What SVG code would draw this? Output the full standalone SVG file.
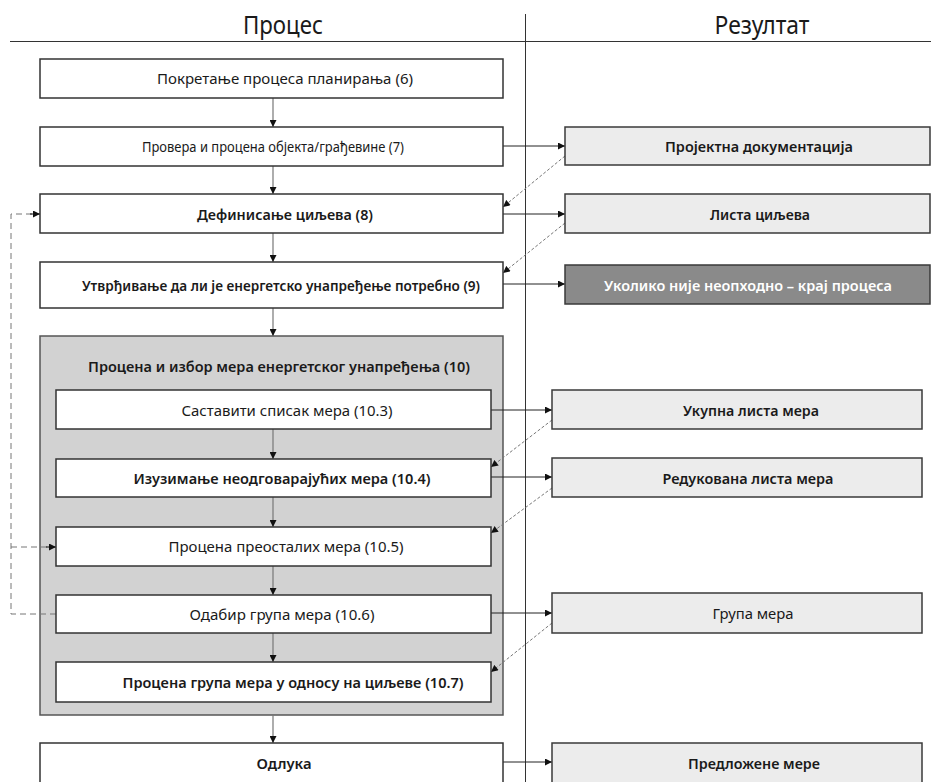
<svg xmlns="http://www.w3.org/2000/svg" width="931" height="782" viewBox="0 0 931 782">
<style>
text{font-family:"Noto Sans","Open Sans","DejaVu Sans",sans-serif;fill:#1a1a1a;text-anchor:middle;dominant-baseline:central;}
.h{font-size:25px;}
.t{font-size:15px;}
.b{font-weight:600;}
.box{fill:#fff;stroke:#333;stroke-width:1.5;}
.res{fill:#ececec;stroke:#3a3a3a;stroke-width:1.5;}
.dark{fill:#8a8a8a;stroke:#3a3a3a;stroke-width:1.5;}
.cont{fill:#d2d2d2;stroke:#555;stroke-width:1.5;}
.wt{fill:#fff;}
.down{stroke:#777;stroke-width:1.2;fill:none;marker-end:url(#ah);}
.out{stroke:#222;stroke-width:1;fill:none;marker-end:url(#ah);}
.diag{stroke:#777;stroke-width:1;stroke-dasharray:3,2;fill:none;marker-end:url(#ah);}
.loop{stroke:#777;stroke-width:1;stroke-dasharray:6,4;fill:none;}
.rule{stroke:#333;stroke-width:1;fill:none;}
</style>
<defs>
<marker id="ah" viewBox="0 0 10 10" refX="10" refY="5" markerWidth="8" markerHeight="7" markerUnits="userSpaceOnUse" orient="auto">
<path d="M0,0 L10,5 L0,10 z" fill="#111"/>
</marker>
</defs>
<g id="layout">
<line class="rule" x1="10" y1="41.5" x2="931" y2="41.5"/>
<line class="rule" x1="525.5" y1="14" x2="525.5" y2="782"/>
<text class="h" x="283" y="24" textLength="80" lengthAdjust="spacingAndGlyphs">Процес</text>
<text class="h" x="762" y="24" textLength="95" lengthAdjust="spacingAndGlyphs">Резултат</text>
</g>
<g id="container10">
<rect class="cont" x="40" y="336" width="463" height="379"/>
<text class="t b" x="279" y="366" textLength="382" lengthAdjust="spacingAndGlyphs">Процена и избор мера енергетског унапређења (10)</text>
</g>
<g id="connectors">
<line class="down" x1="273" y1="98" x2="273" y2="127"/>
<line class="down" x1="273" y1="166" x2="273" y2="194"/>
<line class="down" x1="273" y1="233" x2="273" y2="262"/>
<line class="down" x1="273" y1="308" x2="273" y2="336"/>
<line class="down" x1="273" y1="429" x2="273" y2="459"/>
<line class="down" x1="273" y1="497" x2="273" y2="527"/>
<line class="down" x1="273" y1="566" x2="273" y2="595"/>
<line class="down" x1="273" y1="633" x2="273" y2="662"/>
<line class="down" x1="273" y1="715" x2="273" y2="743"/>
<line class="out" x1="503" y1="146" x2="565" y2="146"/>
<line class="out" x1="503" y1="214" x2="565" y2="214"/>
<line class="out" x1="503" y1="284" x2="565" y2="284"/>
<line class="out" x1="491" y1="410" x2="552" y2="410"/>
<line class="out" x1="491" y1="477" x2="552" y2="477"/>
<line class="out" x1="491" y1="613" x2="552" y2="613"/>
<line class="out" x1="492" y1="762" x2="552" y2="762"/>
<line class="diag" x1="565" y1="156" x2="503" y2="207"/>
<line class="diag" x1="565" y1="223" x2="503" y2="273"/>
<line class="diag" x1="552" y1="420" x2="491" y2="467"/>
<line class="diag" x1="552" y1="488" x2="491" y2="533"/>
<line class="diag" x1="552" y1="623" x2="491" y2="672"/>
<path class="loop" d="M56,614 H11 V214 H32"/>
<path class="loop" d="M11,547 H48"/>
<line x1="30" y1="214" x2="40" y2="214" stroke="#111" stroke-width="1" marker-end="url(#ah)"/>
<line x1="46" y1="547" x2="56" y2="547" stroke="#111" stroke-width="1" marker-end="url(#ah)"/>
</g>
<g id="n6">
<rect class="box" x="40" y="59" width="463" height="39"/>
<text class="t" x="285" y="78" textLength="256" lengthAdjust="spacingAndGlyphs">Покретање процеса планирања (6)</text>
</g>
<g id="n7">
<rect class="box" x="40" y="127" width="463" height="39"/>
<text class="t" x="273" y="146" textLength="262" lengthAdjust="spacingAndGlyphs">Провера и процена објекта/грађевине (7)</text>
</g>
<g id="n8">
<rect class="box" x="40" y="194" width="463" height="39"/>
<text class="t b" x="285" y="214" textLength="176" lengthAdjust="spacingAndGlyphs">Дефинисање циљева (8)</text>
</g>
<g id="n9">
<rect class="box" x="40" y="262" width="463" height="46"/>
<text class="t b" x="281" y="285" textLength="398" lengthAdjust="spacingAndGlyphs">Утврђивање да ли је енергетско унапређење потребно (9)</text>
</g>
<g id="n10_3">
<rect class="box" x="56" y="390" width="435" height="39"/>
<text class="t" x="287" y="410" textLength="211" lengthAdjust="spacingAndGlyphs">Саставити списак мера (10.3)</text>
</g>
<g id="n10_4">
<rect class="box" x="56" y="459" width="435" height="38"/>
<text class="t b" x="282" y="478" textLength="297" lengthAdjust="spacingAndGlyphs">Изузимање неодговарајућих мера (10.4)</text>
</g>
<g id="n10_5">
<rect class="box" x="56" y="527" width="435" height="39"/>
<text class="t" x="286" y="546" textLength="235" lengthAdjust="spacingAndGlyphs">Процена преосталих мера (10.5)</text>
</g>
<g id="n10_6">
<rect class="box" x="56" y="595" width="435" height="38"/>
<text class="t" x="282" y="614" textLength="185" lengthAdjust="spacingAndGlyphs">Одабир група мера (10.6)</text>
</g>
<g id="n10_7">
<rect class="box" x="56" y="662" width="435" height="40"/>
<text class="t b" x="293" y="682" textLength="341" lengthAdjust="spacingAndGlyphs">Процена група мера у односу на циљеве (10.7)</text>
</g>
<g id="odluka">
<rect class="box" x="40" y="743" width="463" height="50"/>
<text class="t b" x="284" y="763" textLength="55" lengthAdjust="spacingAndGlyphs">Одлука</text>
</g>
<g id="r_dok">
<rect class="res" x="565" y="127" width="365" height="38"/>
<text class="t b" x="759" y="146" textLength="188" lengthAdjust="spacingAndGlyphs">Пројектна документација</text>
</g>
<g id="r_ciljevi">
<rect class="res" x="565" y="194" width="365" height="39"/>
<text class="t b" x="760" y="214" textLength="100" lengthAdjust="spacingAndGlyphs">Листа циљева</text>
</g>
<g id="r_kraj">
<rect class="dark" x="565" y="265" width="365" height="39"/>
<text class="t b wt" x="748" y="285" textLength="288" lengthAdjust="spacingAndGlyphs">Уколико није неопходно – крај процеса</text>
</g>
<g id="r_ukupna">
<rect class="res" x="552" y="390" width="370" height="39"/>
<text class="t b" x="751" y="410" textLength="136" lengthAdjust="spacingAndGlyphs">Укупна листа мера</text>
</g>
<g id="r_redukovana">
<rect class="res" x="552" y="458" width="370" height="39"/>
<text class="t b" x="748" y="478" textLength="171" lengthAdjust="spacingAndGlyphs">Редукована листа мера</text>
</g>
<g id="r_grupa">
<rect class="res" x="552" y="593" width="370" height="40"/>
<text class="t" x="753" y="613" textLength="81" lengthAdjust="spacingAndGlyphs">Група мера</text>
</g>
<g id="r_predlozene">
<rect class="res" x="552" y="743" width="370" height="50"/>
<text class="t b" x="754" y="763" textLength="132" lengthAdjust="spacingAndGlyphs">Предложене мере</text>
</g>
</svg>
